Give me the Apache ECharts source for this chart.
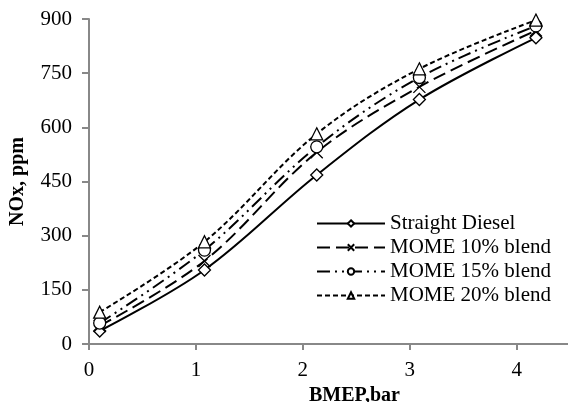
<!DOCTYPE html>
<html>
<head>
<meta charset="utf-8">
<script src="https://cdn.jsdelivr.net/npm/echarts@6/dist/echarts.min.js"></script>
<style>
  html, body { margin: 0; padding: 0; background: #fff; }
  #chart { width: 568px; height: 402px; }
</style>
</head>
<body>
<div id="chart"></div>
<script>
// BMEP (bar) of each test point
const bmep = [0.1, 1.08, 2.13, 3.09, 4.18]
// NOx, ppm
const diesel = [36, 205, 468, 677, 848]
const mome10 = [50, 230, 531, 712, 868]
const mome15 = [58, 260, 546, 738, 881]
const mome20 = [88, 283, 582, 762, 897]
const xTicks = [0, 1, 2, 3, 4]

const serif = '"Liberation Serif", "Times New Roman", serif'
const axisGray = '#888888'

function pairs (ys) {
  return ys.map((y, i) => [bmep[i], y])
}

function makeSeries (name, ys, symbol, dash) {
  return {
    name: name,
    type: 'line',
    data: pairs(ys),
    smooth: 0.35,
    symbol: symbol,
    symbolSize: 12,
    showSymbol: true,
    itemStyle: { color: '#fff', borderColor: '#000', borderWidth: 1.3 },
    lineStyle: { color: '#000', width: 2, type: dash },
    emphasis: { disabled: true },
    z: 2
  }
}

const chart = echarts.init(document.getElementById('chart'))
chart.setOption({
  animation: false,
  backgroundColor: '#fff',
  textStyle: { fontFamily: serif },
  grid: { left: 89, top: 19, bottom: 58, right: 0, outerBoundsMode: 'none', containLabel: false },
  legend: {
    orient: 'vertical',
    left: 316,
    top: 213,
    padding: 0,
    itemWidth: 68,
    itemHeight: 8,
    itemGap: 3,
    textStyle: { fontFamily: serif, fontSize: 21, color: '#000' },
    data: ['Straight Diesel', 'MOME 10% blend', 'MOME 15% blend', 'MOME 20% blend']
  },
  xAxis: {
    type: 'value',
    min: 0,
    max: 4.48,
    name: 'BMEP,bar',
    nameLocation: 'middle',
    nameGap: 30,
    nameTextStyle: { fontFamily: serif, fontSize: 20, fontWeight: 'bold', color: '#000', padding: [0, 0, 0, 52] },
    axisLine: { show: true, lineStyle: { color: axisGray, width: 2 } },
    axisTick: { show: true, length: 6, customValues: xTicks, lineStyle: { color: axisGray, width: 2 } },
    axisLabel: { customValues: xTicks, margin: 16, fontFamily: serif, fontSize: 21, color: '#000' },
    splitLine: { show: false }
  },
  yAxis: {
    type: 'value',
    min: 0,
    max: 900,
    interval: 150,
    name: 'NOx, ppm',
    nameLocation: 'middle',
    nameRotate: 90,
    nameGap: 61,
    nameTextStyle: { fontFamily: serif, fontSize: 20, fontWeight: 'bold', color: '#000' },
    axisLine: { show: true, lineStyle: { color: axisGray, width: 2 } },
    axisTick: { show: true, length: 7, lineStyle: { color: axisGray, width: 2 } },
    axisLabel: { margin: 17, fontFamily: serif, fontSize: 21, color: '#000' },
    splitLine: { show: false }
  },
  series: [
    makeSeries('Straight Diesel', diesel, 'diamond', 'solid'),
    makeSeries('MOME 10% blend', mome10, 'path://M0,0L10,10M10,0L0,10', [13, 6]),
    makeSeries('MOME 15% blend', mome15, 'circle', [13, 5, 2, 5, 2, 5]),
    makeSeries('MOME 20% blend', mome20, 'triangle', [5, 3])
  ]
})
</script>
</body>
</html>
